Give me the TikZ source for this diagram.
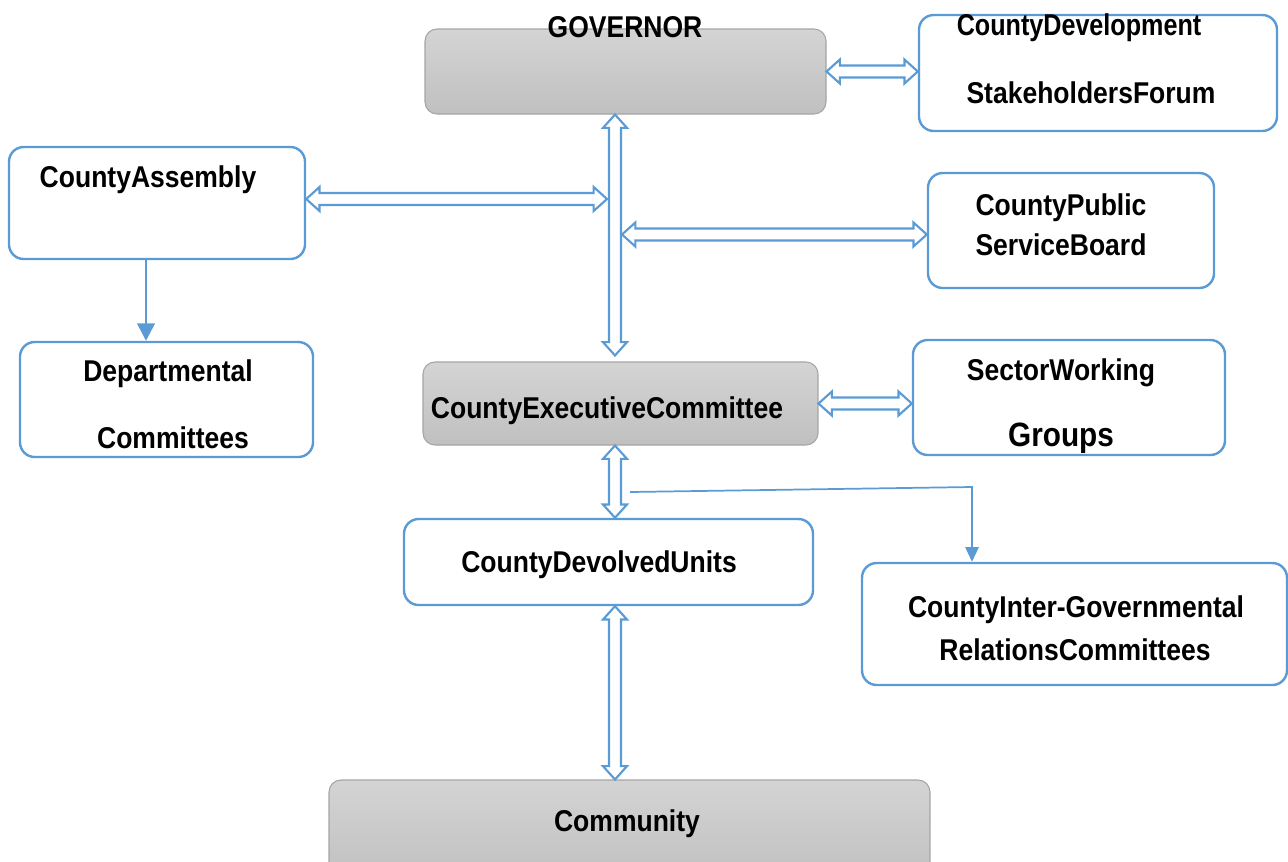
\documentclass[tikz,border=0pt]{standalone}
\usepackage{fontspec}
\usepackage{graphicx}
\setmainfont{Liberation Sans}
\usetikzlibrary{calc,arrows.meta}
\definecolor{lblue}{RGB}{91,155,213}
\definecolor{gtop}{RGB}{212,212,212}
\definecolor{gbot}{RGB}{192,192,192}
\definecolor{gborder}{RGB}{165,165,165}
\newcommand\ahl{10pt}
\newcommand\ahw{9pt}
\newcommand\asw{4.5pt}
\newcommand\dbl[2]{%
\filldraw[harrow] (#1)
 -- ($(#1)!\ahl!(#2)!\ahw!90:(#2)$)
 -- ($(#1)!\ahl!(#2)!\asw!90:(#2)$)
 -- ($(#2)!\ahl!(#1)!\asw!-90:(#1)$)
 -- ($(#2)!\ahl!(#1)!\ahw!-90:(#1)$)
 -- (#2)
 -- ($(#2)!\ahl!(#1)!\ahw!90:(#1)$)
 -- ($(#2)!\ahl!(#1)!\asw!90:(#1)$)
 -- ($(#1)!\ahl!(#2)!\asw!-90:(#2)$)
 -- ($(#1)!\ahl!(#2)!\ahw!-90:(#2)$)
 -- cycle;}
\newcommand\tx[1]{\scalebox{0.97}[1.1]{#1}}
\newcommand\txn[1]{\scalebox{0.92}[1.1]{#1}}
\tikzset{
  bluebox/.style={draw=lblue, line width=1.8pt, rounded corners=11pt, fill=white, inner sep=0pt},
  graybox/.style={draw=gborder, line width=0.8pt, rounded corners=9pt, top color=gtop, bottom color=gbot, inner sep=0pt},
  lbl/.style={font=\bfseries\fontsize{20.5}{24}\selectfont, inner sep=0pt},
  harrow/.style={draw=lblue, fill=white, line width=1.6pt, line join=miter},
  thinarrow/.style={draw=lblue, line width=2pt, -{Triangle[length=13pt,width=13pt]}},
  thinnerarrow/.style={draw=lblue, line width=1.3pt, -{Triangle[length=11pt,width=10pt]}},
}
\begin{document}
\begin{tikzpicture}[x=0.75pt,y=-0.75pt]
\useasboundingbox (0,0) rectangle (1288,861);
% boxes
\node[graybox, minimum width=300.75pt, minimum height=63.75pt] (gov) at (625.5,71.5) {};
\node[bluebox, minimum width=268.5pt, minimum height=87pt] (cdsf) at (1098,73) {};
\node[bluebox, minimum width=222pt, minimum height=84pt] (ca) at (157,203) {};
\node[bluebox, minimum width=214.5pt, minimum height=86.25pt] (cpsb) at (1071,230.5) {};
\node[bluebox, minimum width=219.75pt, minimum height=86.25pt] (dc) at (166.5,399.5) {};
\node[graybox, minimum width=296.25pt, minimum height=62.25pt] (cec) at (620.5,403.5) {};
\node[bluebox, minimum width=234pt, minimum height=86.25pt] (swg) at (1069,397.5) {};
\node[bluebox, minimum width=306.75pt, minimum height=64.5pt] (cdu) at (608.5,562) {};
\node[bluebox, minimum width=318.75pt, minimum height=91.5pt] (cigrc) at (1074.5,624) {};
\node[graybox, minimum width=450.75pt, minimum height=75pt] (com) at (629.5,830) {};
% texts
\node[lbl] (tgov) at (625,27) {\tx{GOVERNOR}};
\node[lbl] (tcdsf1) at (1079,28) {\txn{CountyDevelopment}};
\node[lbl] (tcdsf2) at (1091,93) {\tx{StakeholdersForum}};
\node[lbl] (tca) at (148,180) {\tx{CountyAssembly}};
\node[lbl] (tcpsb1) at (1061,208) {\tx{CountyPublic}};
\node[lbl] (tcpsb2) at (1061,245) {\tx{ServiceBoard}};
\node[lbl] (tdc1) at (168,374) {\tx{Departmental}};
\node[lbl] (tdc2) at (173,438) {\tx{Committees}};
\node[lbl] (tcec) at (607,411) {\tx{CountyExecutiveCommittee}};
\node[lbl] (tswg1) at (1061,373) {\tx{SectorWorking}};
\node[lbl, font=\bfseries\fontsize{23}{26}\selectfont] (tswg2) at (1061,438) {\tx{Groups}};
\node[lbl] (tcdu) at (599,565) {\tx{CountyDevolvedUnits}};
\node[lbl] (tcig1) at (1076,610) {\tx{CountyInter-Governmental}};
\node[lbl] (tcig2) at (1075,650) {\tx{RelationsCommittees}};
\node[lbl] (tcom) at (627,824) {\tx{Community}};
% helper coordinates
\coordinate (spine) at (615,0);
\coordinate (spineL) at (607,0);
\coordinate (spineR) at (622,0);
\coordinate (dcx) at (146,0);
\coordinate (tap) at (630,492);
\coordinate (bend) at (972,487);
\coordinate (a1) at (gov.south -| spine);
\coordinate (b1) at ($(cec.north -| spine)+(0,-6)$);
\coordinate (a2) at ($(ca.east)+(0,-4)$);
\coordinate (b2) at ($(ca.east -| spineL)+(0,-4)$);
\coordinate (a3) at ($(cpsb.west -| spineR)+(0,4)$);
\coordinate (b3) at ($(cpsb.west)+(0,4)$);
\coordinate (a4) at (cec.east);
\coordinate (b4) at (cec.east -| swg.west);
\coordinate (a5) at (cec.south -| spine);
\coordinate (b5) at (cdu.north -| spine);
\coordinate (a6) at (cdu.south -| spine);
\coordinate (b6) at (com.north -| spine);
\coordinate (a7) at (gov.east);
\coordinate (b7) at (gov.east -| cdsf.west);
% connectors
\dbl{a1}{b1}
\dbl{a2}{b2}
\dbl{a3}{b3}
\dbl{a4}{b4}
\dbl{a5}{b5}
\dbl{a6}{b6}
\dbl{a7}{b7}
\draw[thinnerarrow] (tap) -- (bend) -- (bend |- cigrc.north);
\draw[thinarrow] (ca.south -| dcx) -- (dc.north -| dcx);
\end{tikzpicture}
\end{document}
